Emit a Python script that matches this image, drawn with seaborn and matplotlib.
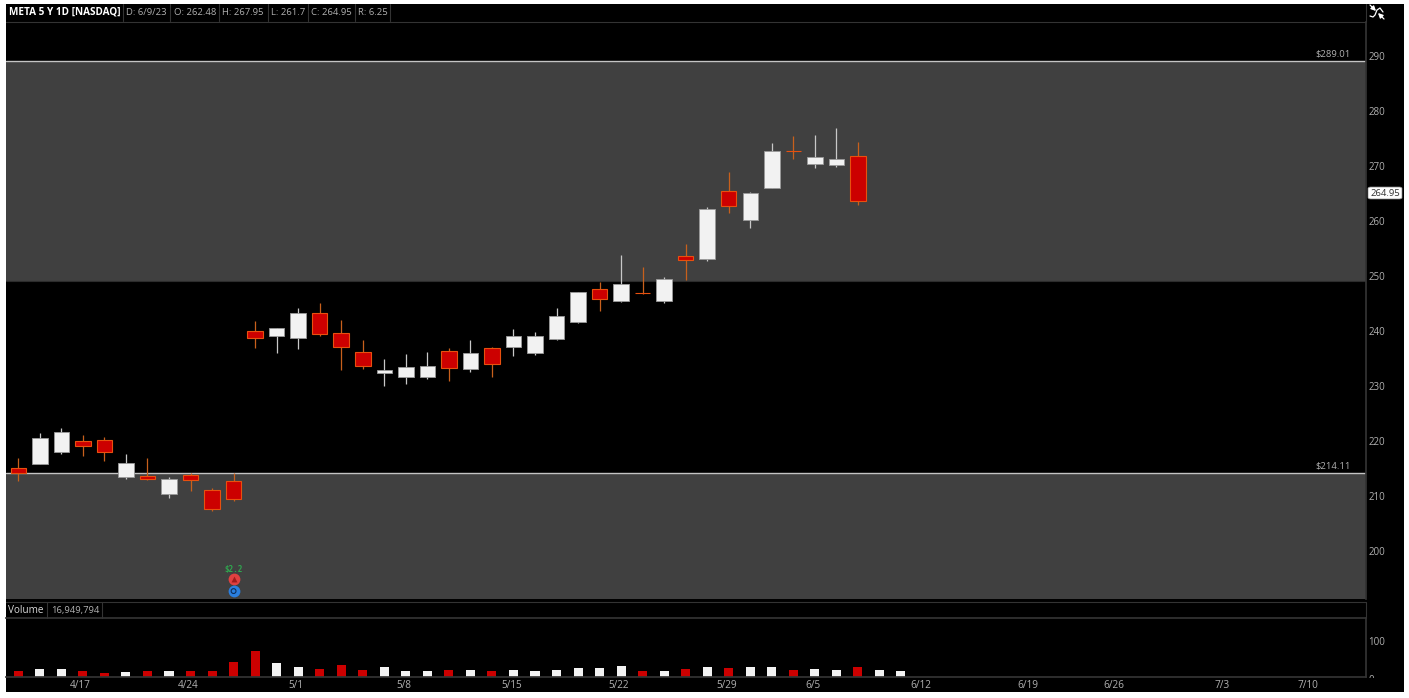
import matplotlib.pyplot as plt
import numpy as np
import pandas as pd
import seaborn as sns
from matplotlib.patches import FancyArrowPatch, FancyBboxPatch, Rectangle
from matplotlib.transforms import ScaledTranslation

# Daily candles, one per session starting 4/12
opens = [214.95, 215.73, 217.96, 219.85, 220.04, 213.42, 213.54, 210.27, 213.67, 210.95,
         212.58, 239.91, 239.05, 238.64, 243.24, 239.49, 236.14, 232.33, 231.49, 231.49,
         236.27, 233.00, 236.82, 236.94, 235.85, 238.40, 241.54, 247.60, 245.42, 246.91,
         245.31, 253.49, 252.94, 265.31, 260.09, 265.91, 272.69, 270.33, 270.15, 271.73]
highs = [216.87, 221.31, 222.22, 221.05, 220.58, 217.49, 216.76, 213.42, 214.04, 211.31,
         214.04, 241.73, 240.51, 244.04, 245.05, 241.91, 238.27, 234.76, 235.67, 236.04,
         236.87, 238.27, 236.94, 240.33, 239.78, 244.04, 247.09, 248.82, 253.73, 251.60,
         249.67, 255.67, 262.40, 268.76, 265.18, 274.04, 275.42, 275.60, 276.76, 274.33]
lows = [212.69, 215.73, 217.55, 217.24, 216.33, 212.95, 212.82, 209.60, 210.76, 207.13,
        208.98, 236.87, 235.85, 236.58, 239.05, 232.82, 232.94, 229.91, 230.27, 231.13,
        230.82, 232.40, 231.54, 235.42, 235.54, 238.27, 241.36, 243.54, 245.18, 246.64,
        245.05, 249.18, 252.69, 261.42, 258.58, 265.91, 271.13, 269.60, 269.73, 262.87]
closes = [214.15, 220.40, 221.49, 218.94, 217.96, 215.85, 213.05, 213.00, 212.82, 207.49,
          209.42, 238.64, 240.51, 243.24, 239.31, 237.05, 233.60, 232.82, 233.36, 233.49,
          233.18, 235.85, 233.91, 238.94, 238.94, 242.58, 246.94, 245.73, 248.45, 246.82,
          249.31, 252.76, 262.14, 262.58, 264.95, 272.69, 272.64, 271.49, 271.13, 263.60]

# Volume in millions, two more sessions than candles
volumes = [17.6, 21, 21, 16, 10, 15, 16, 18, 16, 18, 43, 73, 38, 28, 23, 34, 19.5, 28, 16, 16, 19.5,
           20, 16, 20, 18, 20, 24, 24, 31, 18, 18, 22, 28, 26, 28, 28, 20, 21, 20, 29, 20, 16]
volume_up = [0, 1, 1, 0, 0, 1, 0, 1, 0, 0, 0, 0, 1, 1, 0, 0, 0, 1, 1, 1, 0,
             1, 0, 1, 1, 1, 1, 1, 1, 0, 1, 0, 1, 0, 1, 1, 0, 1, 1, 0, 1, 1]

date_labels = ["4/17", "4/24", "5/1", "5/8", "5/15", "5/22", "5/29", "6/5", "6/12", "6/19", "6/26", "7/3", "7/10"]
date_sessions = [3, 8, 13, 18, 23, 28, 33, 37, 42, 47, 51, 56, 60]

price_ticks = list(range(200, 300, 10))
zone_upper = (249.0, 289.01)
zone_lower = (191.0, 214.11)
last_close = 264.95

header_cells = ["D: 6/9/23", "O: 262.48", "H: 267.95", "L: 261.7", "C: 264.95", "R: 6.25"]
header_starts = [126, 174, 222, 271, 311, 358]
header_seps = [123, 170, 219, 268, 308, 355, 390]

W, H = 1409, 698
GREY_TEXT = "#b0b0b0"
LINE = "#333333"
RED = "#cc0000"
RED_EDGE = "#e8500f"
WHITE = "#f2f2f2"
SMALL = 6.8

sns.set_theme(style="dark")
plt.rcParams["font.family"] = ["Open Sans", "DejaVu Sans"]
plt.rcParams["font.size"] = SMALL


def pane(left, top, right, bottom, **kw):
    # pixel box to figure axes
    return fig.add_axes([left / W, 1 - bottom / H, (right - left) / W, (bottom - top) / H], **kw)


def fig_text(x, y, s, **kw):
    fig.text(x / W, 1 - y / H, s, va="center", **kw)


fig = plt.figure(figsize=(W / 100, H / 100), dpi=100, facecolor="white")

back = pane(6, 4, 1404, 692, facecolor="black")
back.set_xticks([])
back.set_yticks([])
for s in back.spines.values():
    s.set_visible(False)

# price pane
ax = pane(6, 22, 1366, 599, facecolor="black")
xlim = (-0.571, 62.6)
x = np.arange(len(opens))
opens_a, closes_a = np.array(opens), np.array(closes)
is_up = closes_a >= opens_a

ax.axhspan(*zone_upper, color="#404040", lw=0, zorder=0)
ax.axhspan(*zone_lower, color="#404040", lw=0, zorder=0)
ax.axhline(zone_upper[1], color="#c4c4c4", lw=1.0, zorder=1)
ax.axhline(zone_lower[1], color="#c4c4c4", lw=1.0, zorder=1)
ax.axhline(zone_upper[0], color="#2c2c2c", lw=0.8, zorder=1)

ax.vlines(x[is_up], np.array(lows)[is_up], np.array(highs)[is_up], color="#c8c8c8", lw=0.9, zorder=2)
ax.vlines(x[~is_up], np.array(lows)[~is_up], np.array(highs)[~is_up], color="#c8601c", lw=0.9, zorder=2)
ax.bar(x[is_up], (closes_a - opens_a)[is_up], bottom=opens_a[is_up], width=0.72,
       color=WHITE, edgecolor="#9a9a9a", lw=0.6, zorder=3)
ax.bar(x[~is_up], (opens_a - closes_a)[~is_up], bottom=closes_a[~is_up], width=0.72,
       color=RED, edgecolor=RED_EDGE, lw=0.8, zorder=3)

ax.set_xlim(xlim)
ax.set_ylim(191.2, 296.1)
ax.set_xticks([])
ax.yaxis.tick_right()
ax.set_yticks(price_ticks)
ax.tick_params(axis="y", length=0, pad=1.5, labelsize=7, labelcolor=GREY_TEXT)
ax.grid(False)
for s in ax.spines.values():
    s.set_visible(False)
ax.spines["right"].set_visible(True)
ax.spines["right"].set_color(LINE)

ax.text(61.9, zone_upper[1] + 0.4, "$289.01", color=GREY_TEXT, ha="right", va="bottom", fontsize=SMALL)
ax.text(61.9, zone_lower[1] + 0.4, "$214.11", color=GREY_TEXT, ha="right", va="bottom", fontsize=SMALL)

# earnings markers under the 4/26 session
ax.text(10, 196.6, "$2.2", color="#2fa84f", ha="center", va="center", fontsize=5.5,
        family="DejaVu Sans Mono", fontweight="bold")
ax.scatter([10], [194.82], s=72, color="#e04040", zorder=4, lw=0)
ax.scatter([10], [194.82], s=18, color="#a01c1c", marker="^", zorder=5, lw=0)
ax.scatter([10], [192.64], s=72, color="#2a7fe0", zorder=4, lw=0)
ax.scatter([10], [192.64], s=12, facecolor="none", edgecolor="#0d2f5c", lw=0.8, zorder=5)

# volume pane, seaborn draws the bars
vol = pane(6, 618, 1366, 677, facecolor="black")
df = pd.DataFrame({"session": np.arange(len(volumes)), "volume": volumes,
                   "up": ["up" if u else "down" for u in volume_up]})
sns.barplot(data=df, x="session", y="volume", hue="up", palette={"up": WHITE, "down": RED},
            native_scale=True, dodge=False, width=0.42, saturation=1, legend=False,
            linewidth=0, edgecolor="none", ax=vol)
vol.set_xlim(xlim)
vol.set_ylim(0, 164)
vol.set_xlabel("")
vol.set_ylabel("")
vol.yaxis.tick_right()
vol.set_yticks([0, 100])
vol.set_xticks(np.array(date_sessions) - 0.1)
vol.set_xticklabels(date_labels)
vol.tick_params(axis="both", length=0, labelsize=7.2, labelcolor=GREY_TEXT)
vol.tick_params(axis="y", pad=1.5, labelsize=7)
vol.tick_params(axis="x", pad=2.5)
vol.grid(False)
for s in vol.spines.values():
    s.set_visible(False)
for side in ("right", "bottom", "top"):
    vol.spines[side].set_visible(True)
    vol.spines[side].set_color(LINE)

# the volume 0 label is cut off by the date strip
zero_label = vol.get_yticklabels()[0]
zero_label.set_transform(zero_label.get_transform() + ScaledTranslation(0, -1.5 / 72, fig.dpi_scale_trans))
fig.add_artist(Rectangle((1367 / W, 1 - 692 / H), 37 / W, 14.5 / H, transform=fig.transFigure,
                         facecolor="black", edgecolor="none", zorder=10))

# header row
fig_text(9, 12.5, "META 5 Y 1D [NASDAQ]", color="white", fontweight="bold", fontsize=7.2)
for start, cell in zip(header_starts, header_cells):
    fig_text(start, 12.5, cell, color=GREY_TEXT, fontsize=SMALL)


def sep(x0, y0, y1):
    fig.add_artist(plt.Line2D([x0 / W, x0 / W], [1 - y0 / H, 1 - y1 / H], color=LINE, lw=0.8))


def rule(x0, x1, y0):
    fig.add_artist(plt.Line2D([x0 / W, x1 / W], [1 - y0 / H, 1 - y0 / H], color=LINE, lw=0.8))


for px in header_seps:
    sep(px, 4, 21)
rule(6, 1366, 21.5)
sep(1366, 4, 22)

# volume header row
rule(6, 1366, 601.5)
fig_text(8, 610.5, "Volume", color="#d8d8d8", fontsize=7.2)
sep(47, 602, 618)
fig_text(51, 610.5, "16,949,794", color=GREY_TEXT, fontsize=SMALL)
sep(102, 602, 618)
sep(1366, 602, 618)

# last price tag
fig.add_artist(FancyBboxPatch((1368 / W, 1 - 199 / H), 34 / W, 12 / H, transform=fig.transFigure,
                              boxstyle="round,pad=0,rounding_size=0.002", facecolor="white",
                              edgecolor="#888888", lw=0.5, zorder=11))
fig.text(1385 / W, 1 - 193 / H, f"{last_close}", color="#333333", ha="center", va="center",
         fontsize=SMALL, zorder=12)

# scale toggle icon, top right
fig.add_artist(plt.Line2D(np.array([1370, 1373, 1375, 1377, 1380, 1383]) / W,
                          1 - np.array([16, 17, 15, 10, 8, 12]) / H, color="white", lw=0.9))
for tail, head in (((1370, 5), (1376, 11)), ((1384, 19), (1378, 13))):
    fig.add_artist(FancyArrowPatch((tail[0] / W, 1 - tail[1] / H), (head[0] / W, 1 - head[1] / H),
                                   transform=fig.transFigure, arrowstyle="-|>", mutation_scale=7,
                                   color="white", lw=0.9, shrinkA=0, shrinkB=0))

fig.savefig("out.png", dpi=100, facecolor="white")
